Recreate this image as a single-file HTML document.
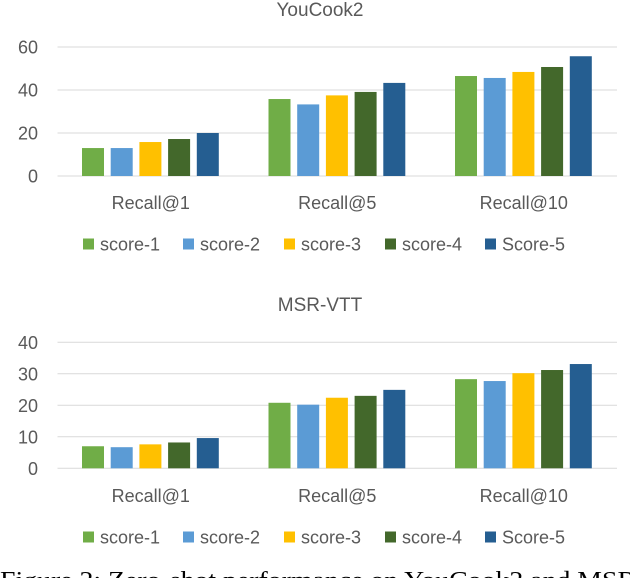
<!DOCTYPE html>
<html><head><meta charset="utf-8"><style>
html,body{margin:0;padding:0;background:#fff;overflow:hidden}
svg{display:block}
</style></head><body>
<svg id="fig" width="630" height="578" viewBox="0 0 630 578" xmlns="http://www.w3.org/2000/svg" font-family="'Liberation Sans', sans-serif">
<text x="0" y="588" font-family="'Liberation Serif', serif" font-size="24" fill="#000" textLength="636" lengthAdjust="spacingAndGlyphs">Figure 2: Zero-shot performance on YouCook2 and MSR</text>
</svg>
<script>
const categories = ["Recall@1","Recall@5","Recall@10"];
const seriesNames = ["score-1","score-2","score-3","score-4","Score-5"];
const youcookValues = [
  [13.0, 35.8, 46.5],
  [13.0, 33.3, 45.6],
  [15.8, 37.5, 48.4],
  [17.2, 39.1, 50.7],
  [20.0, 43.3, 55.7]
];
const msrvttValues = [
  [7.0, 20.8, 28.3],
  [6.7, 20.2, 27.7],
  [7.6, 22.4, 30.2],
  [8.2, 23.0, 31.2],
  [9.6, 24.9, 33.1]
];
const youcookTicks = [0, 20, 40, 60];
const msrvttTicks = [0, 10, 20, 30, 40];
const colors = ["#70AD47","#5B9BD5","#FFC000","#43682B","#255E91"];

const NS = "http://www.w3.org/2000/svg";
const svg = document.getElementById("fig");
function mk(tag, attrs, parent){
  const e = document.createElementNS(NS, tag);
  for (const k in attrs) e.setAttribute(k, attrs[k]);
  (parent||svg).appendChild(e);
  return e;
}

function drawChart(prefix, title, values, ticks, layout){
  const g = mk("g", {});
  
  
  const x0 = 57.5, x1 = 617;
  const maxV = ticks[ticks.length-1];
  const yScale = v => layout.yZero - (v / maxV) * (layout.yZero - layout.yTop);
  const groupW = (x1 - x0) / categories.length;
  const barW = 22, barStep = 28.7, barOff = 24.5;

  const t = mk("text", {x: 320, y: layout.titleY, "text-anchor": "middle", "font-size": 19, fill: "#595959"}, g);
  t.textContent = title;
  
  

  ticks.forEach(v => {
    const y = yScale(v);
    const l = mk("line", {x1: x0, x2: x1, y1: y, y2: y, stroke: "#d9d9d9", "stroke-width": 1}, g);
    
    
    const tx = mk("text", {x: 38, y: y + 6.5, "text-anchor": "end", "font-size": 18, fill: "#595959"}, g);
    tx.textContent = v;
    
    
  });

  categories.forEach((c, ci) => {
    const gx = x0 + ci * groupW;
    values.forEach((ser, si) => {
      const v = ser[ci];
      const y = yScale(v);
      const r = mk("rect", {x: gx + barOff + si * barStep, y: y, width: barW, height: layout.yZero - y, fill: colors[si]}, g);
      
      
    });
    const lt = mk("text", {x: gx + groupW/2, y: layout.catY, "text-anchor": "middle", "font-size": 18, fill: "#595959"}, g);
    lt.textContent = c;
    
    
  });

  const legX = [83, 183, 284, 385, 485];
  seriesNames.forEach((n, si) => {
    const lg = mk("g", {}, g);
    
    
    mk("rect", {x: legX[si], y: layout.legY - 5.5, width: 11, height: 11, fill: colors[si]}, lg);
    const lt = mk("text", {x: legX[si] + 17, y: layout.legY + 6.5, "font-size": 18, fill: "#595959"}, lg);
    lt.textContent = n;
  });
}

drawChart("youcook2", "YouCook2", youcookValues, youcookTicks,
  {yTop: 47, yZero: 176, titleY: 16, catY: 209, legY: 244});
drawChart("msrvtt", "MSR-VTT", msrvttValues, msrvttTicks,
  {yTop: 342.3, yZero: 468.3, titleY: 311, catY: 502, legY: 537});
</script>
</body></html>
